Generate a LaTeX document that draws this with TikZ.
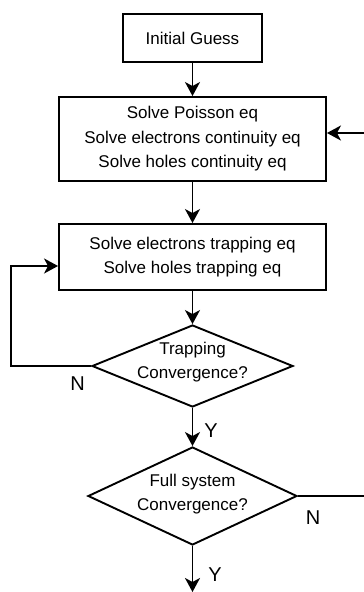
\documentclass[tikz,border=0pt]{standalone}
\usepackage{fontspec}
\setmainfont{Liberation Sans}
\usetikzlibrary{shapes.geometric,arrows.meta}
\begin{document}
\begin{tikzpicture}[x=1pt,y=-1pt,line width=1.9pt,
  procbox/.style={draw,rectangle,inner sep=0pt,align=center,font=\fontsize{17}{24.5}\selectfont},
  decbox/.style={draw,diamond,inner sep=0pt},
  dectext/.style={align=center,font=\fontsize{17}{24}\selectfont},
  lbl/.style={font=\fontsize{20}{20}\selectfont,inner sep=0pt},
  flow/.style={draw,-{Stealth[length=14pt,width=15pt,inset=4pt]}}]
\clip (0,0) rectangle (364,592);
\node[procbox,minimum width=139pt,minimum height=48pt] (init) at (192.5,38) {Initial Guess};
\node[procbox,minimum width=267pt,minimum height=84pt] (solve) at (192.5,139)
  {Solve Poisson eq\\Solve electrons continuity eq\\Solve holes continuity eq};
\node[procbox,minimum width=267pt,minimum height=66pt] (trap) at (192.5,257)
  {Solve electrons trapping eq\\Solve holes trapping eq};
\node[decbox,minimum width=201pt,minimum height=82pt] (d1) at (192.5,366) {};
\node[dectext] (t1) at (192.5,362.5) {Trapping\\Convergence?};
\node[decbox,minimum width=209pt,minimum height=98pt] (d2) at (192.5,496) {};
\node[dectext] (t2) at (192.5,494.5) {Full system\\Convergence?};
\coordinate (loopL) at (11,366);
\coordinate (loopR) at (390,496);
\coordinate (endpt) at (192.5,592);
\path[flow] (init.south) -- (solve.north);
\path[flow] (solve.south) -- (trap.north);
\path[flow] (trap.south) -- (d1.north);
\path[flow] (d1.west) -- (loopL) |- ([yshift=-9pt]trap.west);
\path[flow] (d1.south) -- (d2.north);
\path[flow] (d2.east) -- (loopR) |- ([yshift=6pt]solve.east);
\path[flow] (d2.south) -- (endpt);
\node[lbl] (n1) at (77.5,384) {N};
\node[lbl] (n2) at (313,518) {N};
\node[lbl] (y1) at (211,431) {Y};
\node[lbl] (y2) at (215,575) {Y};
\end{tikzpicture}
\end{document}
